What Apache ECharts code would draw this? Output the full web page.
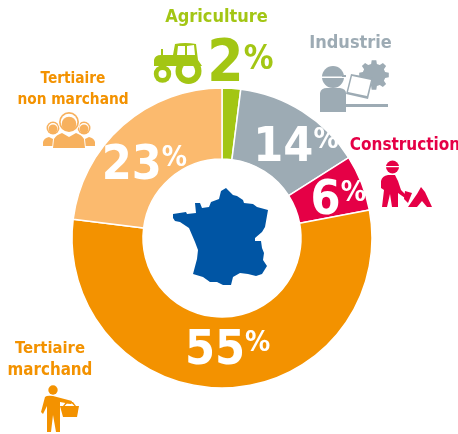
<!DOCTYPE html>
<html><head><meta charset="utf-8">
<style>html,body{margin:0;padding:0;background:#fff}#c{width:458px;height:434px}</style>
<script src="https://cdn.jsdelivr.net/npm/echarts@6/dist/echarts.min.js"></script>
</head><body><div id="c"></div>
<script>
const names=['Agriculture','Industrie','Construction','Tertiaire marchand','Tertiaire non marchand'];
const values=[2,14,6,55,23];
const colors=['#A3C614','#9DABB4','#E50046','#F39200','#FBBA6E'];
const labelOffsets=[[11,-55],[11,10],[7,7],[2,-4],[0,17]];
const font='"DejaVu Sans Condensed","DejaVu Sans",sans-serif';
const france='M173 214L186 212L187 214L196 213L195 203L200 203L202 208L209 207L211 202L219 199L221 191L226 188L233 195L237 196L243 200L244 203L253 204L257 207L268 210L265 227L262 232L255 238L255 241L261 241L262 248L264 253L263 260L267 266L262 274L256 276L248 274L240 273L233 277L231 285L223 285L217 282L210 282L203 277L193 274L197 259L198 250L195 242L192 235L189 228L180 222L175 221L173 218Z';
const chart=echarts.init(document.getElementById('c'));
let shapeId=0;
function txt(t,x,y,fill,size){return {type:'text',x,y,style:{text:t,fill,font:'bold '+size+'px '+font,textAlign:'center',textVerticalAlign:'middle'}};}
function p(d,fill,z){const name='icon'+(shapeId++);echarts.graphic.registerShape(name,echarts.graphic.extendPath(d,{}));return {type:name,z:z||1,style:{fill}};}
function circ(cx,cy,r,fill){return {type:'circle',shape:{cx,cy,r},style:{fill}};}
function rect(x,y,width,height,fill){return {type:'rect',shape:{x,y,width,height},style:{fill}};}
function gearPath(cx,cy,r1,r2,n){let d='';for(let i=0;i<n;i++){const a=i*2*Math.PI/n,w=Math.PI/n*0.55;
 [[a-w*1.2,r1],[a-w*.7,r2],[a+w*.7,r2],[a+w*1.2,r1]].forEach(([t,r],j)=>{d+=((i==0&&j==0)?'M':'L')+(cx+r*Math.cos(t)).toFixed(1)+' '+(cy+r*Math.sin(t)).toFixed(1);});}return d+'Z';}
const G='#A3C614',Y='#9DABB4',R='#E50046',O='#F39200',L='#F7B15E',W='#fff';
const icons=[
 p('M175 44Q185 42 196 44L198 60L202 66L154 66L154 60Q155 55 161 55L161 49L163 49L163 55L173 55Z',G),
 p('M178 46L185 46L185 55L177 55ZM187 46L194 45L195 55L187 55Z',W),
 circ(188.5,71,14.5,W),circ(188.5,71,13,G),circ(188.5,71,6.7,W),circ(162.5,74,10,W),circ(162.5,74,8.7,G),circ(162.5,74,4,W),
 circ(333,77,11,Y),rect(321,76.5,25,1.5,W),rect(342,75,4,2,Y),
 p('M320 112L320 93Q321 88 327 88L340 88Q346 89 346 93L346 112Z',Y),
 p(gearPath(374,75,11.5,15,8),Y),circ(374,75,5.5,W),
 rect(346,104,42,3,Y),
 p('M349 75L372 80L367 101L346 97Z',W),p('M351 74L373 78L368 99L346 94Z',Y),p('M352 76L371 80L367 96L348 92Z',W),circ(358,85,6.5,Y),circ(358,85,2.8,W),
 circ(392.5,167,6.5,R),rect(385,166,15,1.2,W),
 p('M381 181Q382 176 388 175L395 175L398 181L401 190L407 196L405 198L398 193L398 207L392 207L390 194L387 207L382 207L384 190L381 188Z',R),
 p('M408 207L417 194L421 187L425 192L432 207Z',R),p('M417 207L422 201L427 207Z',W),p('M405 191L412 193L408 203L404 199Z',R),
 circ(53,390,4.7,O),p('M45 397Q47 395 53 396L72 401L71 404L60 402L60 432L56 432L53 415L51 432L47 432L47 406L43 414L41 412Z',O),
 p('M60 406L79 406L77 417L63 417Z',O),p('M63 406L66 402L73 402L76 406L74.5 406L72 403.5L67 403.5L64.5 406Z',O),
 ...[65,69,73].flatMap(x=>[rect(x-1,408.5,2.2,2.2,W),rect(x-1,412,2.2,2.2,W)]),
 circ(53,128,6.5,L),circ(53,128,5,W),circ(53,129,4.5,L),p('M43 146L43 142Q44 138 49 137L53 139L57 137L60 146Z',L),
 circ(84,128,6.5,L),circ(84,128,5,W),circ(84,129,4.5,L),p('M95 146L95 142Q94 138 89 137L85 139L81 137L78 146Z',L),
 circ(69,122,11,W),circ(69,122,10,L),circ(69,122,8.3,W),circ(69,124,7.3,L),
 p('M52 149L53 139Q55 134 62 132L69 136L76 132Q83 134 85 139L86 149Z',W),
 p('M53 148L54 139Q56 135 62 133L69 137L76 133Q82 135 84 139L85 148Z',L)
];
chart.setOption({
 animation:false,
 graphic:[
  p(france,'#0055A4',10),
  txt(names[0],216.5,17,G,18),
  txt(names[1],350.5,43,Y,18),
  txt(names[2],405,146,R,17),
  txt('Tertiaire',73,79,O,15.3),
  txt('non marchand',73,100,O,15.3),
  txt('Tertiaire',50,349,O,16.5),
  txt('marchand',50,371,O,16.8),
  ...icons
 ],
 series:[{
  type:'pie',center:[222,238],radius:[79,150],startAngle:90,clockwise:true,
  silent:true,avoidLabelOverlap:false,labelLine:{show:false},
  itemStyle:{borderColor:'#fff',borderWidth:1.5},
  data:names.map((n,i)=>({name:n,value:values[i],itemStyle:{color:colors[i]},
   label:{show:true,position:'inside',offset:labelOffsets[i],
    formatter:()=>`{n|${values[i]}}{s|%}`,
    rich:{
     n:{fontFamily:font,fontWeight:'bold',fontSize:i==0?58:48,color:i==0?G:W,lineHeight:44},
     s:{fontFamily:font,fontWeight:'bold',fontSize:i==0?33:28,color:i==0?G:W,verticalAlign:'top',lineHeight:26}
    }}}))
 }]
});
</script></body></html>
